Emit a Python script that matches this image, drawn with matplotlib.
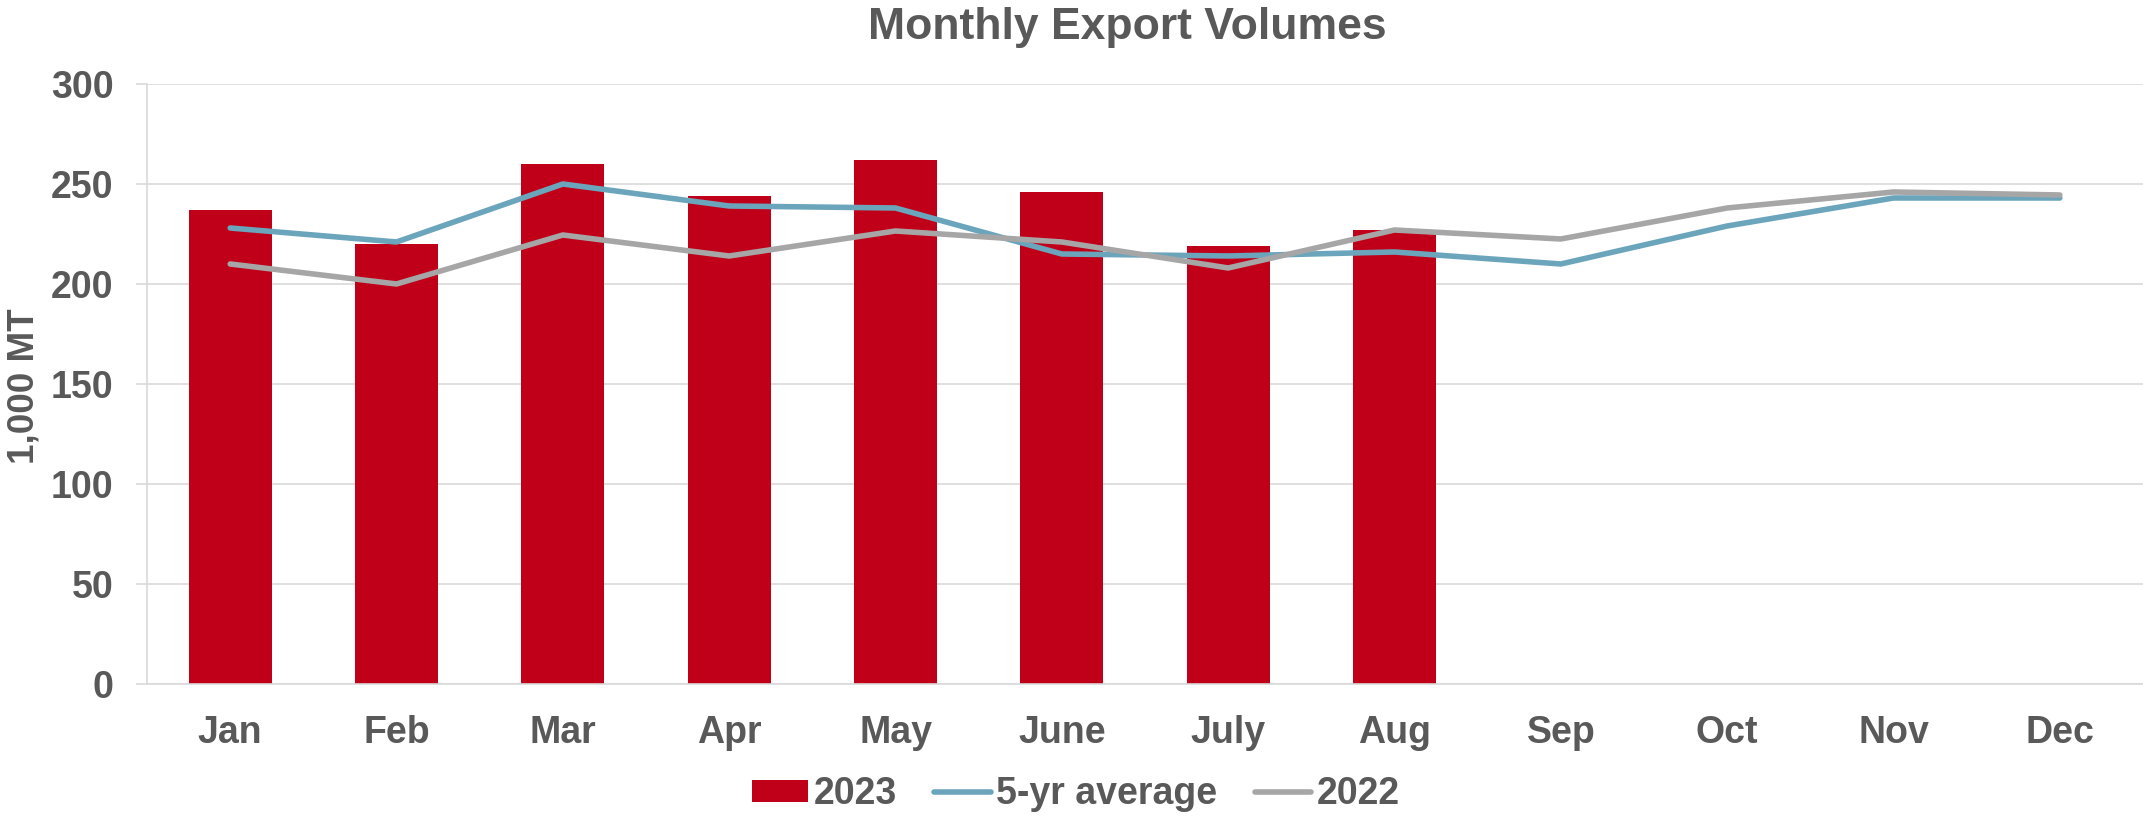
import matplotlib
matplotlib.use('Agg')
import matplotlib.pyplot as plt
import numpy as np

months = ['Jan', 'Feb', 'Mar', 'Apr', 'May', 'June', 'July', 'Aug', 'Sep', 'Oct', 'Nov', 'Dec']
exports_2023 = [237, 220, 260, 244, 262, 246, 219, 227]
avg_5yr = [228, 221, 250, 239, 238, 215, 214, 216, 210, 229, 243, 243]
exports_2022 = [210, 200, 224.5, 214, 226.5, 221, 208, 227, 222.5, 238, 246, 244.5]

txt = '#595959'
plt.rcParams['font.family'] = ['Liberation Sans', 'DejaVu Sans']
plt.rcParams['font.weight'] = 'bold'

fig = plt.figure(figsize=(21.43, 8.17), dpi=100)
ax = fig.add_axes([0.0686, 0.1628, 0.9314, 0.7344])

x = np.arange(len(months))
b = ax.bar(x[:len(exports_2023)], exports_2023, width=0.5, color='#C00018', label='2023', zorder=2)
l1, = ax.plot(x, avg_5yr, color='#6BA5BC', lw=4, solid_capstyle='round', label='5-yr average', zorder=3)
l2, = ax.plot(x, exports_2022, color='#A6A6A6', lw=4, solid_capstyle='round', label='2022', zorder=3)

ax.set_xlim(-0.5, 11.5)
ax.set_ylim(0, 300)
ax.set_yticks(range(0, 301, 50))
ax.set_xticks(x)
ax.set_xticklabels(months)
ax.yaxis.grid(True, color='#D9D9D9', lw=1.2, zorder=0)
ax.set_axisbelow(True)
for s in ['top', 'right']:
    ax.spines[s].set_visible(False)
ax.spines['left'].set_color('#D9D9D9')
ax.spines['bottom'].set_color('#D9D9D9')
ax.spines['left'].set_linewidth(1.2)
ax.spines['bottom'].set_linewidth(1.2)
ax.tick_params(axis='y', length=8, color='#D9D9D9', width=1.2, pad=16, labelsize=27, labelcolor=txt)
ax.tick_params(axis='x', length=0, pad=22, labelsize=27, labelcolor=txt)

fig.text(0.011, 0.5275, '1,000 MT', rotation=90, ha='center', va='center',
         fontsize=26.5, color=txt, fontweight='bold')
fig.text(0.526, 0.952, 'Monthly Export Volumes', ha='center', va='baseline',
         fontsize=32, color=txt, fontweight='bold')

leg = fig.legend([b, l1, l2], ['2023', '5-yr average', '2022'],
                 loc='center', bbox_to_anchor=(0.502, 0.028), ncol=3, frameon=False,
                 fontsize=27, handlelength=1.5, handleheight=0.55, handletextpad=0.15,
                 columnspacing=1.0, borderaxespad=0)
for t in leg.get_texts():
    t.set_color(txt)

fig.savefig('out.png', dpi=100)
